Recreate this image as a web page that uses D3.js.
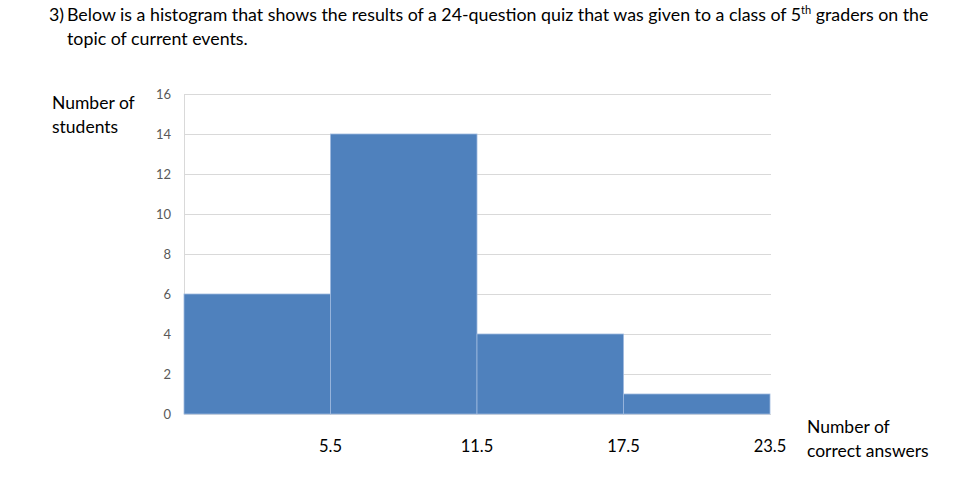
<!DOCTYPE html>
<html>
<head>
<meta charset="utf-8">
<script src="https://cdn.jsdelivr.net/npm/d3@7"></script>
<style>
  body { margin: 0; background: #fff; }
  svg { display: block; font-family: Lato, "Open Sans", sans-serif; }
</style>
</head>
<body>
<div id="chart"></div>
<script>
// histogram bins (bin edges) and counts
const binEdges = [-0.5, 5.5, 11.5, 17.5, 23.5];
const counts = [6, 14, 4, 1];
const xTickLabels = ["5.5", "11.5", "17.5", "23.5"];
const yTicks = [0, 2, 4, 6, 8, 10, 12, 14, 16];

const width = 960, height = 494;
const margin = { top: 94, right: 190, bottom: 80, left: 184 };

const svg = d3.select('#chart').append('svg')
  .attr('width', width)
  .attr('height', height);

// question text
const q = svg.append('g').attr('fill', '#000').style('font-size', '17.8px');
q.append('text').attr('x', 49).attr('y', 21).text('3)');
const line1 = q.append('text').attr('x', 67).attr('y', 21);
line1.append('tspan').text('Below is a histogram that shows the results of a 24-question quiz that was given to a class of 5');
line1.append('tspan').attr('dy', -7).style('font-size', '11px').text('th');
line1.append('tspan').attr('dy', 7).text(' graders on the');
q.append('text').attr('x', 67).attr('y', 45).text('topic of current events.');

const x = d3.scaleLinear()
  .domain([binEdges[0], binEdges[binEdges.length - 1]])
  .range([margin.left, width - margin.right]);

const y = d3.scaleLinear()
  .domain([0, 16])
  .range([height - margin.bottom, margin.top]);

// gridlines
svg.append('g')
  .selectAll('line')
  .data(yTicks)
  .join('line')
    .attr('x1', x.range()[0])
    .attr('x2', x.range()[1] + 1)
    .attr('y1', d => y(d) + 0.5)
    .attr('y2', d => y(d) + 0.5)
    .attr('stroke', '#d9d9d9')
    .attr('stroke-width', 1);

// left axis line
svg.append('line')
  .attr('x1', x.range()[0] + 0.5).attr('x2', x.range()[0] + 0.5)
  .attr('y1', y(16)).attr('y2', y(0) + 1)
  .attr('stroke', '#d9d9d9');

// bars
const bins = counts.map((c, i) => ({ x0: binEdges[i], x1: binEdges[i + 1], count: c }));
svg.append('g')
  .selectAll('rect')
  .data(bins)
  .join('rect')
    .attr('x', d => x(d.x0))
    .attr('y', d => y(d.count))
    .attr('width', d => x(d.x1) - x(d.x0))
    .attr('height', d => y(0) - y(d.count))
    .attr('fill', '#4f81bd')
    .attr('stroke', '#9fb9de')
    .attr('stroke-width', 0.8);

// y axis labels
svg.append('g')
  .selectAll('text')
  .data(yTicks)
  .join('text')
    .attr('x', 171)
    .attr('y', d => y(d) + 4.5)
    .attr('text-anchor', 'end')
    .attr('fill', '#595959')
    .style('font-size', '13px')
    .text(d => d);

// x axis labels (bin edges)
svg.append('g')
  .selectAll('text')
  .data(xTickLabels)
  .join('text')
    .attr('x', d => x(+d))
    .attr('y', 452)
    .attr('text-anchor', 'middle')
    .attr('fill', '#000')
    .style('font-size', '16.5px')
    .text(d => d);

// axis titles
const yt = svg.append('text').attr('fill', '#000').style('font-size', '17.5px');
yt.append('tspan').attr('x', 52).attr('y', 109).text('Number of');
yt.append('tspan').attr('x', 52).attr('y', 133).text('students');

const xt = svg.append('text').attr('fill', '#000').style('font-size', '17.5px');
xt.append('tspan').attr('x', 807).attr('y', 433).text('Number of');
xt.append('tspan').attr('x', 807).attr('y', 457).text('correct answers');
</script>
</body>
</html>
